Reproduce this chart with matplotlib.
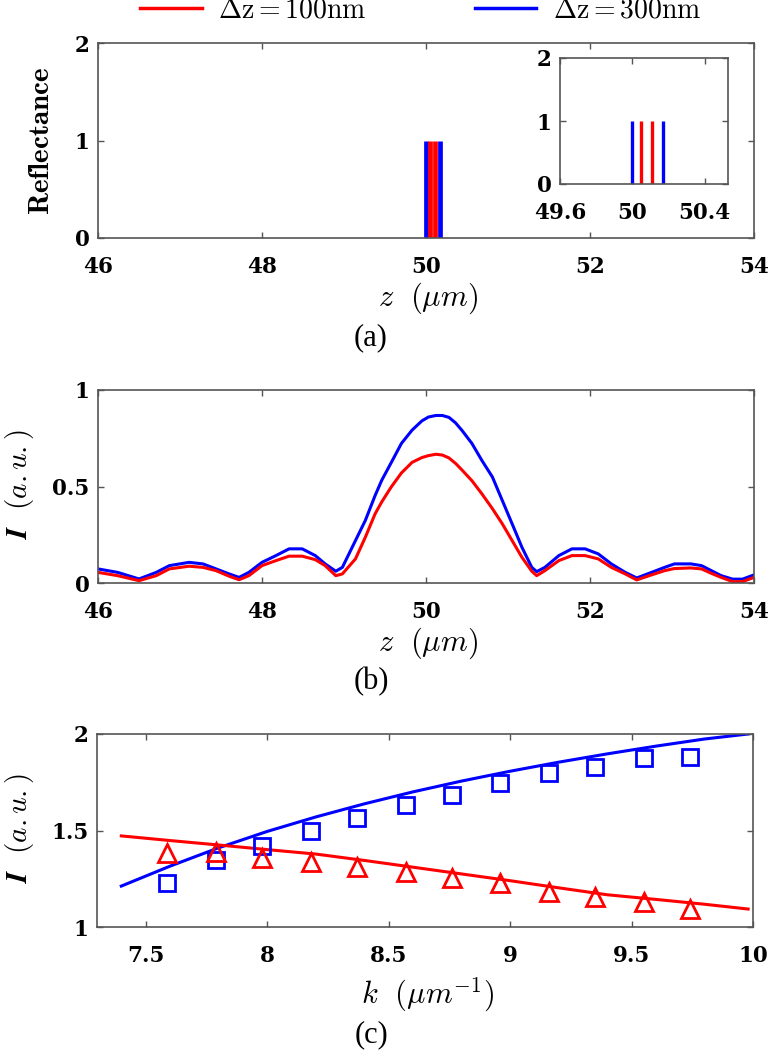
import numpy as np
import matplotlib
matplotlib.use("Agg")
import matplotlib.pyplot as plt
from matplotlib.ticker import FuncFormatter, FixedLocator
from matplotlib.lines import Line2D

plt.rcParams['mathtext.fontset'] = 'cm'
plt.rcParams['font.family'] = ['Liberation Serif', 'DejaVu Serif']

# (a) reflector positions and reflectance
red_pos = [50.05, 50.11]
blue_pos = [50.0, 50.17]
refl_red = [1, 1]
refl_blue = [1, 1]

# (b) interference signal vs z
z_b = [46.0, 46.24, 46.5, 46.71, 46.87, 47.11, 47.28, 47.44, 47.6, 47.72, 47.84,
       48.0, 48.17, 48.33, 48.49, 48.65, 48.77, 48.9, 48.98, 49.14, 49.26, 49.38,
       49.46, 49.58, 49.7, 49.83, 49.95, 50.03, 50.12, 50.2, 50.28, 50.36, 50.44,
       50.56, 50.68, 50.81, 50.93, 51.05, 51.17, 51.29, 51.35, 51.45, 51.62, 51.78,
       51.94, 52.1, 52.26, 52.43, 52.57, 52.75, 52.91, 53.03, 53.23, 53.36, 53.48,
       53.6, 53.74, 53.86, 54.0]
i_100 = [0.055, 0.038, 0.012, 0.038, 0.073, 0.087, 0.081, 0.064, 0.035, 0.017, 0.038,
         0.09, 0.116, 0.139, 0.139, 0.121, 0.09, 0.038, 0.047, 0.125, 0.237, 0.359,
         0.42, 0.50, 0.57, 0.625, 0.650, 0.660, 0.667, 0.663, 0.648, 0.62, 0.585,
         0.53, 0.463, 0.385, 0.307, 0.22, 0.133, 0.061, 0.038, 0.064, 0.116, 0.142,
         0.142, 0.125, 0.081, 0.047, 0.016, 0.042, 0.064, 0.075, 0.078, 0.073, 0.05,
         0.029, 0.007, 0.007, 0.029]
i_300 = [0.073, 0.055, 0.021, 0.055, 0.09, 0.107, 0.099, 0.073, 0.047, 0.029, 0.055,
         0.107, 0.142, 0.177, 0.177, 0.142, 0.099, 0.061, 0.081, 0.22, 0.324, 0.454,
         0.532, 0.627, 0.723, 0.792, 0.840, 0.860, 0.868, 0.868, 0.858, 0.83, 0.79,
         0.723, 0.636, 0.549, 0.428, 0.307, 0.185, 0.081, 0.059, 0.081, 0.142, 0.177,
         0.177, 0.151, 0.099, 0.055, 0.026, 0.055, 0.081, 0.099, 0.099, 0.09, 0.064,
         0.038, 0.02, 0.02, 0.042]

# (c) intensity vs wavenumber
k_fit = [7.4, 7.6, 7.8, 8.0, 8.2, 8.4, 8.6, 8.8, 9.0, 9.2, 9.4, 9.6, 9.8, 9.98]
fit_100 = [1.472, 1.448, 1.425, 1.401, 1.378, 1.345, 1.310, 1.275, 1.240, 1.203,
           1.167, 1.143, 1.118, 1.093]
fit_300 = [1.212, 1.315, 1.410, 1.495, 1.570, 1.638, 1.700, 1.756, 1.807, 1.854,
           1.897, 1.937, 1.974, 2.0]
k_pts = [7.59, 7.79, 7.98, 8.18, 8.37, 8.57, 8.76, 8.96, 9.16, 9.35, 9.55, 9.74]
pts_100 = [1.383, 1.389, 1.36, 1.337, 1.31, 1.285, 1.254, 1.228, 1.181, 1.155, 1.13, 1.093]
pts_300 = [1.228, 1.347, 1.42, 1.497, 1.565, 1.632, 1.684, 1.746, 1.797, 1.829, 1.874, 1.881]

W, H = 769, 1050
fig = plt.figure(figsize=(W / 100, H / 100), dpi=100)


def px_axes(x0, y0, x1, y1):
    return fig.add_axes([x0 / W, 1 - y1 / H, (x1 - x0) / W, (y1 - y0) / H])


def px_text(x, y, s, **kw):
    fig.text(x / W, 1 - y / H, s, ha='center', va='center', **kw)


plain = FuncFormatter(lambda v, p: '%g' % v)


def style(ax, xt, yt):
    for s in ax.spines.values():
        s.set_color('#555555')
        s.set_linewidth(1.2)
    ax.tick_params(direction='in', length=4, width=1, color='#555555',
                   top=True, right=True, labelsize=15.5, labelfontfamily='DejaVu Serif')
    ax.tick_params(axis='x', pad=13)
    ax.tick_params(axis='y', pad=6)
    ax.xaxis.set_major_locator(FixedLocator(xt))
    ax.yaxis.set_major_locator(FixedLocator(yt))
    ax.xaxis.set_major_formatter(plain)
    ax.yaxis.set_major_formatter(plain)
    plt.setp(ax.get_xticklabels() + ax.get_yticklabels(), fontweight='bold')


# panel (a)
ax_a = px_axes(98, 43, 754, 238)
ax_a.vlines(blue_pos, 0, refl_blue, color='blue', lw=3.4)
ax_a.vlines(red_pos, 0, refl_red, color='red', lw=3.4)
ax_a.set_xlim(46, 54)
ax_a.set_ylim(0, 2)
style(ax_a, [46, 48, 50, 52, 54], [0, 1, 2])

ax_in = px_axes(560, 58, 728, 184)
ax_in.vlines(blue_pos, 0, refl_blue, color='blue', lw=2.4)
ax_in.vlines(red_pos, 0, refl_red, color='red', lw=2.4)
ax_in.set_xlim(49.6, 50.53)
ax_in.set_ylim(0, 2)
style(ax_in, [49.6, 50, 50.4], [0, 1, 2])

# panel (b)
ax_b = px_axes(98, 390, 754, 583)
ax_b.plot(z_b, i_300, color='blue', lw=2.2)
ax_b.plot(z_b, i_100, color='red', lw=2.2)
ax_b.set_xlim(46, 54)
ax_b.set_ylim(0, 1)
style(ax_b, [46, 48, 50, 52, 54], [0, 0.5, 1])

# panel (c)
ax_c = px_axes(97, 734, 753, 927)
ax_c.plot(k_fit, fit_300, color='blue', lw=2.2)
ax_c.plot(k_fit, fit_100, color='red', lw=2.2)
ax_c.plot(k_pts, pts_300, 's', ms=12, mfc='none', mec='blue', mew=2)
ax_c.plot(k_pts, pts_100, '^', ms=13, mfc='none', mec='red', mew=2)
ax_c.set_xlim(7.3, 10)
ax_c.set_ylim(1, 2)
style(ax_c, [7.5, 8, 8.5, 9, 9.5, 10], [1, 1.5, 2])

# labels
px_text(42, 141, r'$\mathbf{Reflectance}$', rotation=90, fontsize=21)
px_text(19, 484, r'$\mathbfit{I}\ \ (a.u.)$', rotation=90, fontsize=21)
px_text(20, 828, r'$\mathbfit{I}\ \ (a.u.)$', rotation=90, fontsize=21)
px_text(428, 298, r'$z\ \ (\mu m)$', fontsize=22)
px_text(428, 643, r'$z\ \ (\mu m)$', fontsize=22)
px_text(428, 995, r'$k\ \ (\mu m^{-1})$', fontsize=22)
px_text(371, 338, '(a)', fontsize=22)
px_text(371, 682, '(b)', fontsize=22)
px_text(371, 1035, '(c)', fontsize=22)

handles = [Line2D([], [], color='red', lw=2.5, label=r'$\Delta\mathrm{z} = 100\mathrm{nm}$'),
           Line2D([], [], color='blue', lw=2.5, label=r'$\Delta\mathrm{z} = 300\mathrm{nm}$')]
fig.legend(handles=handles, loc='center', bbox_to_anchor=(421 / W, 1 - 11 / H), ncol=2,
           frameon=False, fontsize=20, handlelength=2.2, handletextpad=0.6,
           columnspacing=3.9, borderpad=0, borderaxespad=0)

fig.savefig('out.png', dpi=100)
